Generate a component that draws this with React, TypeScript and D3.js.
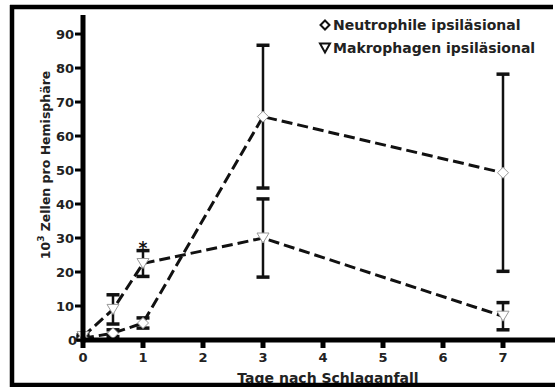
import React from "react";
import * as d3 from "d3";

const days = [0, 0.5, 1, 3, 7];
const neutroMean = [0.5, 2, 5, 65.7, 49.2];
const neutroErr = [0.5, 1, 1.5, 21, 29];
const macroMean = [1, 9, 22.5, 30, 7];
const macroErr = [0.5, 4.3, 3.8, 11.5, 4];
const xTicks = [0, 1, 2, 3, 4, 5, 6, 7];
const yTicks = [0, 10, 20, 30, 40, 50, 60, 70, 80, 90];
const legendLabels = ["Neutrophile ipsiläsional", "Makrophagen ipsiläsional"];
const xTitle = "Tage nach Schlaganfall";
const yTitleMain = "Zellen pro Hemisphäre";

const W = 555;
const H = 387;
const FONT = "'DejaVu Sans', sans-serif";

export default function App() {
  const x = d3.scaleLinear().domain([0, 8]).range([83, 563]);
  const y = d3.scaleLinear().domain([0, 95.6]).range([340, 15]);

  const line = d3
    .line<number>()
    .x((_, i) => x(days[i]))
    .y((v) => y(v));

  const diamond = (cx: number, cy: number, r: number) =>
    `M${cx},${cy - r}L${cx + r},${cy}L${cx},${cy + r}L${cx - r},${cy}Z`;
  const triDown = (cx: number, cy: number, w: number, h: number) =>
    `M${cx - w / 2},${cy - h / 2}L${cx + w / 2},${cy - h / 2}L${cx},${cy + h / 2}Z`;

  const errBars = (means: number[], errs: number[], key: string) =>
    means.map((m, i) => {
      const cx = x(days[i]);
      const top = y(m + errs[i]);
      const bot = y(m - errs[i]);
      return (
        <g key={key + i}>
          <line x1={cx} x2={cx} y1={top} y2={bot} stroke="#111" strokeWidth={2.5} />
          <line x1={cx - 6.5} x2={cx + 6.5} y1={top} y2={top} stroke="#111" strokeWidth={3.5} />
          <line x1={cx - 6.5} x2={cx + 6.5} y1={bot} y2={bot} stroke="#111" strokeWidth={3.5} />
        </g>
      );
    });

  return (
    <div style={{ position: "fixed", left: 0, top: 0, width: W, height: H, overflow: "hidden", background: "#fff" }}>
      <svg
        width={W}
        height={H}
        style={{ display: "block" }}
        fontFamily={FONT}
        fontWeight="bold"
      >
        <rect x={0} y={0} width={W} height={H} fill="#fff" />

        {/* error bars */}
        {errBars(neutroMean, neutroErr, "n")}
        {errBars(macroMean, macroErr, "m")}

        {/* dashed lines */}
        <path d={line(neutroMean) || ""} fill="none" stroke="#111" strokeWidth={3} strokeDasharray="11,5" />
        <path d={line(macroMean) || ""} fill="none" stroke="#111" strokeWidth={3} strokeDasharray="11,5" />

        {/* markers */}
        {neutroMean.map((v, i) => (
          <path key={"nd" + i} d={diamond(x(days[i]), y(v), 5.5)} fill="#fff" stroke="#999" strokeWidth={1} />
        ))}
        {macroMean.map((v, i) => (
          <path key={"mt" + i} d={triDown(x(days[i]), y(v), 12, 10)} fill="#fff" stroke="#999" strokeWidth={1} />
        ))}

        {/* star */}
        <text x={x(1)} y={254} textAnchor="middle" fontSize={17} fill="#111">*</text>

        {/* axes */}
        <line x1={x(0)} x2={W} y1={y(0)} y2={y(0)} stroke="#000" strokeWidth={5} />
        <line x1={x(0)} x2={x(0)} y1={15} y2={y(0) + 2.5} stroke="#000" strokeWidth={5} />
        {xTicks.map((t) => (
          <g key={"xt" + t}>
            <line x1={x(t)} x2={x(t)} y1={y(0)} y2={y(0) + 8} stroke="#000" strokeWidth={5} />
            <text x={x(t)} y={362} textAnchor="middle" fontSize={13} fill="#222">{t}</text>
          </g>
        ))}
        {yTicks.map((t) => (
          <g key={"yt" + t}>
            <line x1={75} x2={x(0)} y1={y(t)} y2={y(t)} stroke="#000" strokeWidth={3} />
            <text x={t === 0 ? 77 : 74} y={y(t) + 4.7} textAnchor="end" fontSize={13} fill="#222">{t}</text>
          </g>
        ))}

        {/* axis titles */}
        <text x={328} y={383} textAnchor="middle" fontSize={14} fill="#222">{xTitle}</text>
        <text transform="translate(50,165) rotate(-90)" textAnchor="middle" fontSize={12.5} fill="#222">
          10<tspan dy={-6} fontSize={9}>3</tspan>
          <tspan dy={6}> {yTitleMain}</tspan>
        </text>

        {/* legend */}
        <path d={diamond(325, 25, 4.5)} fill="#fff" stroke="#111" strokeWidth={2} />
        <text x={333} y={29.5} fontSize={14} fill="#222">{legendLabels[0]}</text>
        <path d={triDown(325, 48, 10, 9)} fill="#fff" stroke="#111" strokeWidth={2} />
        <text x={333} y={52.5} fontSize={14} fill="#222">{legendLabels[1]}</text>

        {/* frame: left, top, bottom (no right edge visible) */}
        <line x1={12} x2={12} y1={5} y2={H} stroke="#000" strokeWidth={4.5} />
        <line x1={10} x2={553} y1={7} y2={7} stroke="#000" strokeWidth={4.5} />
        <line x1={10} x2={W} y1={385} y2={385} stroke="#000" strokeWidth={4.5} />
      </svg>
    </div>
  );
}
